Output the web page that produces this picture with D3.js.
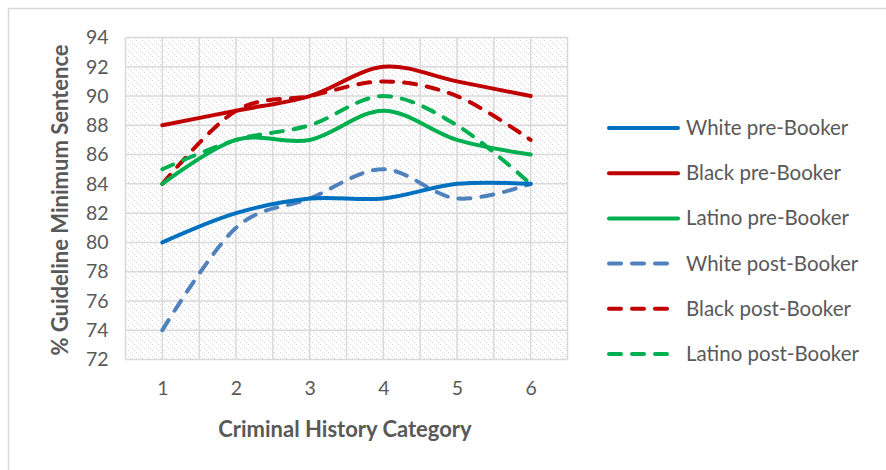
<!DOCTYPE html>
<html><head><meta charset="utf-8">
<script src="https://cdn.jsdelivr.net/npm/d3@7"></script>
<style>body{margin:0;background:#fff}svg{display:block}text{font-family:Lato,sans-serif}</style>
</head><body><svg id="c" width="886" height="470"></svg>
<script>
const categories = [1, 2, 3, 4, 5, 6];
const seriesNames = ["White pre-Booker","Black pre-Booker","Latino pre-Booker","White post-Booker","Black post-Booker","Latino post-Booker"];
const whitePre  = [80, 82, 83, 83, 84, 84];
const blackPre  = [88, 89, 90, 92, 91, 90];
const latinoPre = [84, 87, 87, 89, 87, 86];
const whitePost = [74, 81, 83, 85, 83, 84];
const blackPost = [84, 89, 90, 91, 90, 87];
const latinoPost= [85, 87, 88, 90, 88, 84];
const yTicks = [72,74,76,78,80,82,84,86,88,90,92,94];
const colors = ["#0070C0","#C00000","#00B050","#4F81BD","#C00000","#00B050"];
const dashed = [false,false,false,true,true,true];
const allSeries = [whitePre, blackPre, latinoPre, whitePost, blackPost, latinoPost];

const svg = d3.select("#c");
const W=886,H=470;
const L=125.5, R=567.5, T=37.5, B=359.5;

svg.append("rect").attr("x",8.5).attr("y",8.5).attr("width",W).attr("height",H).attr("fill","#fff").attr("stroke","#d9d9d9").attr("stroke-width",1.5);

const defs = svg.append("defs");
const pat = defs.append("pattern").attr("id","hatch").attr("patternUnits","userSpaceOnUse").attr("width",6).attr("height",6);
pat.append("rect").attr("width",6).attr("height",6).attr("fill","#fff");
[0,2,4].forEach(p=>pat.append("rect").attr("x",p).attr("y",p).attr("width",1).attr("height",1).attr("fill","#d6d6d6"));

const x = d3.scalePoint().domain(categories).range([L+(R-L)/12, R-(R-L)/12]);
const y = d3.scaleLinear().domain([72,94]).range([B,T]);

svg.append("rect").attr("x",L).attr("y",T).attr("width",R-L).attr("height",B-T).attr("fill","url(#hatch)");

const g = svg.append("g");
const step = (R-L)/12;
g.selectAll("line.v").data(d3.range(13)).join("line")
  .attr("x1",i=>L+i*step).attr("x2",i=>L+i*step).attr("y1",T).attr("y2",B)
  .attr("stroke","#d9d9d9").attr("stroke-width",1.5);
g.selectAll("line.h").data(yTicks).join("line")
  .attr("x1",L).attr("x2",R).attr("y1",d=>y(d)).attr("y2",d=>y(d))
  .attr("stroke","#d9d9d9").attr("stroke-width",1.5);

const yAxis = svg.append("g").attr("transform",`translate(${L},0)`).call(d3.axisLeft(y).tickValues(yTicks).tickSize(0).tickPadding(17));
yAxis.select(".domain").remove();
yAxis.selectAll("text").attr("font-size",19.5).attr("fill","#595959");
const xAxis = svg.append("g").attr("transform",`translate(0,${B})`).call(d3.axisBottom(x).tickSize(0).tickPadding(22));
xAxis.select(".domain").remove();
xAxis.selectAll("text").attr("font-size",19.5).attr("fill","#595959");

svg.append("text").attr("x",345).attr("y",437).attr("text-anchor","middle").attr("font-size",22).attr("font-weight","bold").attr("fill","#595959").text("Criminal History Category");
svg.append("text").attr("transform","translate(68,200) rotate(-90)").attr("text-anchor","middle").attr("font-size",22).attr("font-weight","bold").attr("fill","#595959").text("% Guideline Minimum Sentence");

const line = d3.line().x((d,i)=>x(categories[i])).y(d=>y(d)).curve(d3.curveCatmullRom.alpha(0));
const order = [3,4,5,0,1,2];
order.forEach(k=>{
  svg.append("path").attr("d",line(allSeries[k])).attr("fill","none").attr("stroke",colors[k]).attr("stroke-width",4)
    .attr("stroke-linecap","round").attr("stroke-dasharray",dashed[k]?"12,11":null);
});

const lg = svg.append("g");
seriesNames.forEach((n,i)=>{
  const yy = 128 + i*45.2;
  lg.append("line").attr("x1",609).attr("x2",678).attr("y1",yy).attr("y2",yy).attr("stroke",colors[i]).attr("stroke-width",4)
    .attr("stroke-linecap","round").attr("stroke-dasharray",dashed[i]?"12,11":null);
  lg.append("text").attr("x",686).attr("y",yy+7).attr("font-size",20.5).attr("fill","#595959").text(n);
});
</script></body></html>
